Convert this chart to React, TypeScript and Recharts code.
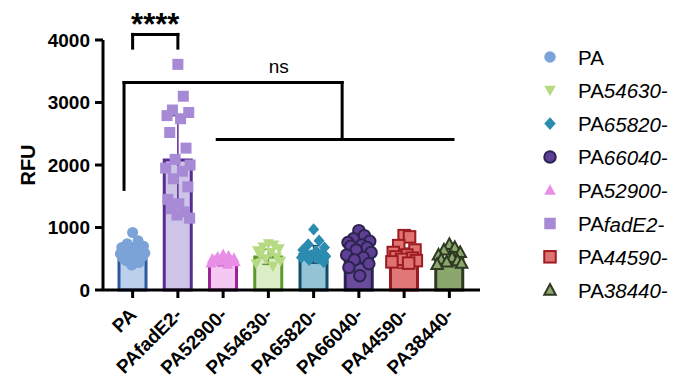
import React from "react";
import {
  ComposedChart,
  Bar,
  Cell,
  Scatter,
  ErrorBar,
  XAxis,
  YAxis,
  ReferenceLine,
  ReferenceDot,
} from "recharts";

const GROUPS = ["PA", "PAfadE2-", "PA52900-", "PA54630-", "PA65820-", "PA66040-", "PA44590-", "PA38440-"];
const MEANS = [600, 2080, 440, 530, 570, 610, 510, 490];
const SDS = [140, 710, 50, 120, 140, 190, 160, 100];

const PA_PTS = [920, 790, 740, 700, 680, 660, 640, 620, 600, 590, 580, 570, 560, 540, 520, 500, 470, 440, 400];
const FADE2_PTS = [3610, 3100, 2880, 2840, 2790, 2740, 2520, 2270, 2090, 2000, 1950, 1900, 1780, 1650, 1450, 1380, 1300, 1250, 1200, 1150];
const P52900_PTS = [570, 550, 530, 510, 500, 490, 480, 470, 460, 450, 430, 410];
const P54630_PTS = [740, 720, 690, 660, 630, 600, 560, 530, 500, 460, 420, 380];
const P65820_PTS = [970, 790, 730, 680, 640, 620, 600, 580, 560, 540, 520, 500, 480, 450];
const P66040_PTS = [950, 870, 820, 780, 760, 720, 700, 680, 640, 600, 560, 520, 480, 420, 360, 230];
const P44590_PTS = [870, 850, 710, 640, 600, 560, 530, 510, 490, 470, 450, 430];
const P38440_PTS = [730, 680, 640, 600, 560, 520, 490, 470, 450, 430, 410];
const POINTS = [PA_PTS, FADE2_PTS, P52900_PTS, P54630_PTS, P65820_PTS, P66040_PTS, P44590_PTS, P38440_PTS];

// horizontal spread of the dots inside each column, in category units
const JITTER = [0, 0.12, -0.12, 0.24, -0.24, 0.06, -0.18, 0.18, -0.06, 0.27, -0.27, 0.1, -0.1, 0.22, -0.22, 0.02, -0.14, 0.14, -0.02, 0.26];

const BAR_FILL = ["#bcd0ec", "#cec4e8", "#f4c8f2", "#ddedc8", "#94c3d6", "#6a4b9c", "#e07878", "#8ba76e"];
const BAR_STROKE = ["#2c5aa0", "#5a2d91", "#9c2296", "#5c9a2c", "#134d68", "#2c2450", "#9c1c22", "#2e3a22"];
const PT_FILL = ["#7ba3d8", "#a68ad6", "#e88ee6", "#b5da82", "#2b8cb0", "#5f3f94", "#e07272", "#8ba76e"];
const PT_STROKE = ["", "", "", "", "", "#2c2450", "#9c1c22", "#2e3a22"];
const SHAPES = ["circle", "square", "triangle", "triangleDown", "diamond", "circle", "square", "triangle"];

const LEGEND_ORDER = [0, 3, 4, 5, 2, 1, 6, 7];

// significance brackets, in data units (x = category index)
const BRACKETS = [
  [[0, 4090], [1, 4090]],
  [[0, 4090], [0, 3870]],
  [[1, 4090], [1, 3870]],
  [[-0.19, 3320], [4.63, 3320]],
  [[-0.19, 3320], [-0.19, 1610]],
  [[4.63, 3320], [4.63, 2410]],
  [[1.87, 2410], [7.08, 2410]],
];

const FONT = "'Liberation Sans', Arial, sans-serif";

const chartData = GROUPS.map((name, i) => ({ name, mean: MEANS[i] }));

function Marker({ kind, cx, cy, size, fill, stroke }: any) {
  const r = size / 2;
  const sw = stroke ? 2 : 0;
  const common = { fill, stroke: stroke || "none", strokeWidth: sw };
  if (kind === "circle") return <circle cx={cx} cy={cy} r={r} {...common} />;
  if (kind === "square") return <rect x={cx - r} y={cy - r} width={size} height={size} {...common} />;
  if (kind === "diamond")
    return <polygon points={`${cx},${cy - r * 1.1} ${cx + r},${cy} ${cx},${cy + r * 1.1} ${cx - r},${cy}`} {...common} />;
  if (kind === "triangleDown")
    return <polygon points={`${cx - r},${cy - r * 0.8} ${cx + r},${cy - r * 0.8} ${cx},${cy + r * 1.05}`} {...common} />;
  return <polygon points={`${cx},${cy - r * 1.05} ${cx + r},${cy + r * 0.8} ${cx - r},${cy + r * 0.8}`} {...common} />;
}

function XTick({ x, y, payload }: any) {
  return (
    <g transform={`translate(${x + 5},${y + 16})`}>
      <text
        transform="rotate(-45)"
        textAnchor="end"
        fontSize={19}
        fontWeight="bold"
        fontFamily={FONT}
        fill="#000"
      >
        {payload.value}
      </text>
    </g>
  );
}

export default function App() {
  return (
    <div style={{ position: "absolute", left: 0, top: 0, width: 677, height: 390, background: "#fff" }}>
      <ComposedChart
        width={677}
        height={390}
        data={chartData}
        margin={{ top: 40, right: 197, bottom: 10, left: 23 }}
      >
        <XAxis
          xAxisId="cat"
          dataKey="name"
          type="category"
          padding={{ left: 7, right: 8 }}
          height={90}
          tickSize={8}
          tickMargin={2}
          axisLine={{ stroke: "#000", strokeWidth: 3 }}
          tickLine={{ stroke: "#000", strokeWidth: 3 }}
          tick={(p: any) => <XTick {...p} />}
          interval={0}
        />
        <XAxis
          xAxisId="num"
          dataKey="x"
          type="number"
          domain={[-0.5, 7.5]}
          padding={{ left: 7, right: 8 }}
          allowDataOverflow
          hide
        />
        <YAxis
          yAxisId="y"
          type="number"
          domain={[0, 4000]}
          ticks={[0, 1000, 2000, 3000, 4000]}
          width={80}
          tickSize={8}
          tickMargin={5}
          axisLine={{ stroke: "#000", strokeWidth: 3 }}
          tickLine={{ stroke: "#000", strokeWidth: 3 }}
          tick={{ fontSize: 19, fontWeight: "bold", fill: "#000", fontFamily: FONT }}
          label={{
            value: "RFU",
            angle: -90,
            position: "insideLeft",
            offset: 5,
            style: { textAnchor: "middle", fontSize: 20, fontWeight: "bold", fill: "#000", fontFamily: FONT },
          }}
        />
        <Bar xAxisId="cat" yAxisId="y" dataKey="mean" barSize={27} isAnimationActive={false}>
          {chartData.map((_, i) => (
            <Cell key={i} fill={BAR_FILL[i]} stroke={BAR_STROKE[i]} strokeWidth={3} />
          ))}
        </Bar>
        {POINTS.map((vals, g) => (
          <Scatter
            key={"p" + g}
            xAxisId="num"
            yAxisId="y"
            dataKey="y"
            data={vals.map((v, i) => ({ x: g + JITTER[i % JITTER.length], y: v }))}
            isAnimationActive={false}
            shape={(p: any) => (
              <Marker kind={SHAPES[g]} cx={p.cx} cy={p.cy} size={PT_STROKE[g] ? 11.5 : 11} fill={PT_FILL[g]} stroke={PT_STROKE[g]} />
            )}
          />
        ))}
        {GROUPS.map((_, g) => (
          <Scatter
            key={"e" + g}
            xAxisId="num"
            yAxisId="y"
            dataKey="y"
            data={[{ x: g, y: MEANS[g], sd: SDS[g] }]}
            isAnimationActive={false}
            shape={() => <g />}
          >
            <ErrorBar dataKey="sd" direction="y" width={6} stroke={BAR_STROKE[g]} strokeWidth={1.5} isAnimationActive={false} />
          </Scatter>
        ))}
        {BRACKETS.map((seg, i) => (
          <ReferenceLine
            key={"b" + i}
            xAxisId="num"
            yAxisId="y"
            segment={[{ x: seg[0][0], y: seg[0][1] }, { x: seg[1][0], y: seg[1][1] }]}
            stroke="#000"
            strokeWidth={3}
            strokeLinecap="square"
            ifOverflow="visible"
          />
        ))}
        <ReferenceDot
          xAxisId="num"
          yAxisId="y"
          x={0.5}
          y={4080}
          ifOverflow="visible"
          shape={(p: any) => (
            <text x={p.cx} y={p.cy} textAnchor="middle" fontSize={31} fontWeight="bold" fontFamily={FONT} fill="#000">
              ****
            </text>
          )}
        />
        <ReferenceDot
          xAxisId="num"
          yAxisId="y"
          x={3.23}
          y={3467}
          ifOverflow="visible"
          shape={(p: any) => (
            <text x={p.cx} y={p.cy} textAnchor="middle" fontSize={19} fontFamily={FONT} fill="#000">
              ns
            </text>
          )}
        />
      </ComposedChart>
      <svg width={677} height={390} style={{ position: "absolute", left: 0, top: 0, pointerEvents: "none" }}>
        {LEGEND_ORDER.map((g, row) => {
          const cy = 57 + row * 33.3;
          return (
            <g key={g}>
              <Marker kind={SHAPES[g]} cx={550} cy={cy} size={11.5} fill={PT_FILL[g]} stroke={PT_STROKE[g]} />
              <text x={578} y={cy} dominantBaseline="central" fontSize={20.5} fontFamily={FONT} fill="#000">
                PA
                <tspan fontStyle="italic">{GROUPS[g].slice(2)}</tspan>
              </text>
            </g>
          );
        })}
      </svg>
    </div>
  );
}
